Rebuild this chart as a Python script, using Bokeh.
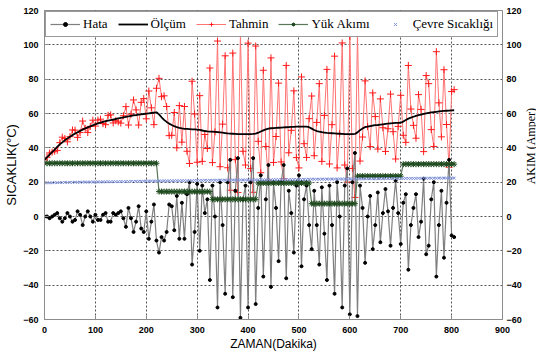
import math
from bokeh.plotting import figure
from bokeh.layouts import row
from bokeh.models import Range1d, LinearAxis, Legend, LegendItem, SingleIntervalTicker
from bokeh.core.properties import value
from bokeh.embed import file_html
from bokeh.resources import INLINE

# Sampling instants (minutes), every 5 minutes
zaman = list(range(0, 810, 5))

# Measured temperature (°C)
olcum = [
    33.0, 34.5, 36.0, 37.5, 39.0, 40.5, 42.0, 43.2, 44.4, 45.5,
    46.5, 47.4, 48.3, 49.1, 49.9, 50.6, 51.3, 51.9, 52.5, 53.1,
    53.7, 54.2, 54.7, 55.1, 55.5, 55.9, 56.2, 56.5, 56.8, 57.1,
    57.4, 57.7, 58.0, 58.3, 58.6, 58.9, 59.1, 59.3, 59.5, 59.7,
    59.9, 60.1, 60.3, 60.5, 60.7, 59.5, 57.8, 56.3, 55.1, 54.1,
    53.3, 52.6, 52.0, 51.6, 51.3, 51.1, 51.0, 50.9, 50.8, 50.7,
    50.6, 50.4, 50.1, 49.8, 49.6, 49.5, 49.4, 49.3, 49.2, 49.0,
    48.8, 48.6, 48.4, 48.3, 48.2, 48.1, 48.0, 48.0, 48.0, 48.0,
    48.0, 48.0, 48.1, 48.3, 48.8, 49.5, 50.2, 50.8, 51.2, 51.4,
    51.5, 51.6, 51.7, 51.8, 51.9, 52.0, 52.1, 52.2, 52.2, 52.3,
    52.3, 52.3, 52.4, 52.4, 52.0, 51.2, 50.4, 49.8, 49.4, 49.1,
    48.9, 48.7, 48.6, 48.5, 48.4, 48.3, 48.2, 48.1, 48.0, 48.0,
    48.0, 48.0, 48.1, 49.0, 50.3, 51.3, 52.0, 52.4, 52.7, 53.0,
    53.2, 53.3, 53.5, 53.7, 53.9, 54.1, 54.3, 54.4, 54.5, 54.5,
    54.6, 55.3, 56.2, 57.0, 57.6, 58.1, 58.6, 59.0, 59.4, 59.8,
    60.1, 60.4, 60.6, 60.8, 61.0, 61.2, 61.4, 61.5, 61.6, 61.7,
    61.8, 61.9,
]

# Predicted temperature (°C)
tahmin = [
    33.0, 34.5, 37.0, 37.5, 38.0, 38.5, 43.0, 46.2, 45.4, 43.5,
    46.5, 50.4, 50.3, 46.1, 48.9, 55.6, 51.3, 48.9, 52.5, 56.1,
    52.7, 56.2, 56.7, 54.1, 53.5, 58.9, 59.2, 54.5, 55.8, 55.1,
    54.4, 58.7, 64.0, 53.3, 59.6, 67.9, 62.1, 53.3, 66.5, 68.7,
    56.9, 73.1, 63.3, 53.5, 74.7, 80.5, 69.8, 70.3, 64.1, 47.1,
    47.3, 60.6, 40.0, 64.6, 43.3, 64.1, 38.0, 30.9, 78.8, 59.7,
    31.6, 70.4, 32.1, 47.8, 39.6, 86.5, 31.4, 49.3, 102.2, 29.0,
    53.8, 93.6, 28.4, 15.3, 95.2, 33.1, 14.0, 107.0, 38.0, 30.0,
    101.0, 28.0, 14.1, 99.3, 43.8, 25.5, 85.2, 40.8, 21.2, 92.4,
    31.5, 46.6, 77.7, 31.8, 21.9, 88.0, 37.1, 50.2, 73.2, 34.3,
    28.3, 81.3, 42.4, 34.4, 57.0, 70.2, 35.4, 54.8, 77.4, 32.1,
    58.9, 85.7, 30.6, 53.5, 93.4, 28.3, 48.2, 101.1, 30.0, 20.0,
    105.0, 28.0, 11.1, 107.0, 32.3, 46.3, 79.0, 52.4, 40.7, 72.0,
    58.2, 39.3, 68.5, 51.7, 37.9, 51.1, 71.3, 49.4, 33.5, 52.5,
    70.6, 47.3, 43.2, 88.0, 62.6, 53.1, 45.6, 71.0, 62.4, 37.8,
    82.1, 77.4, 50.6, 40.8, 96.0, 66.2, 46.4, 85.5, 53.6, 28.7,
    72.8, 73.9,
]

# Prediction error (°C)
hata = [
    0, 0, -1, 0, 1, 2, -1, -3, -1, 2,
    0, -3, -2, 3, 1, -5, 0, 3, 0, -3,
    1, -2, -2, 1, 2, -3, -3, 2, 1, 2,
    3, -1, -6, 5, -1, -9, -3, 6, -7, -9,
    3, -13, -3, 7, -14, -21, -12, -14, -9, 7,
    6, -8, 12, -13, 8, -13, 13, 20, -28, -9,
    19, -20, 18, 2, 10, -37, 18, 0, -53, 20,
    -5, -45, 20, 33, -47, 15, 34, -59, 10, 18,
    -53, 20, 34, -51, 5, 24, -35, 10, 30, -41,
    20, 5, -26, 20, 30, -36, 15, 2, -21, 18,
    24, -29, 10, 18, -5, -19, 15, -5, -28, 17,
    -10, -37, 18, -5, -45, 20, 0, -53, 18, 28,
    -57, 20, 37, -58, 18, 5, -27, 0, 12, -19,
    -5, 14, -15, 2, 16, 3, -17, 5, 21, 2,
    -16, 8, 13, -31, -5, 5, 13, -12, -3, 22,
    -22, -17, 10, 20, -35, -5, 15, -24, 8, 33,
    -11, -12,
]

# Load current (A)
yuk_akimi = [
    31, 31, 31, 31, 31, 31, 31, 31, 31, 31,
    31, 31, 31, 31, 31, 31, 31, 31, 31, 31,
    31, 31, 31, 31, 31, 31, 31, 31, 31, 31,
    31, 31, 31, 31, 31, 31, 31, 31, 31, 31,
    31, 31, 31, 31, 31, 14.5, 14.5, 14.5, 14.5, 14.5,
    14.5, 14.5, 14.5, 14.5, 14.5, 14.5, 14.5, 14.5, 14.5, 14.5,
    14.5, 14.5, 14.5, 14.5, 14.5, 14.5, 10, 10, 10, 10,
    10, 10, 10, 10, 10, 10, 10, 10, 10, 10,
    10, 10, 10, 10, 19.5, 19.5, 19.5, 19.5, 19.5, 19.5,
    19.5, 19.5, 19.5, 19.5, 19.5, 19.5, 19.5, 19.5, 19.5, 19.5,
    19.5, 19.5, 19.5, 19.5, 19.5, 7.5, 7.5, 7.5, 7.5, 7.5,
    7.5, 7.5, 7.5, 7.5, 7.5, 7.5, 7.5, 7.5, 7.5, 7.5,
    7.5, 7.5, 7.5, 23.5, 23.5, 23.5, 23.5, 23.5, 23.5, 23.5,
    23.5, 23.5, 23.5, 23.5, 23.5, 23.5, 23.5, 23.5, 23.5, 23.5,
    23.5, 30.5, 30.5, 30.5, 30.5, 30.5, 30.5, 30.5, 30.5, 30.5,
    30.5, 30.5, 30.5, 30.5, 30.5, 30.5, 30.5, 30.5, 30.5, 30.5,
    30.5, 30.5,
]

# Ambient temperature (°C)
cevre = [
    19.6, 19.7, 19.6, 19.7, 19.8, 19.7, 19.8, 19.8, 19.9, 19.8,
    19.9, 19.9, 20.0, 19.9, 20.0, 20.0, 20.1, 20.0, 20.1, 20.1,
    20.1, 20.2, 20.1, 20.2, 20.2, 20.3, 20.2, 20.3, 20.3, 20.3,
    20.4, 20.3, 20.4, 20.4, 20.5, 20.4, 20.5, 20.5, 20.5, 20.6,
    20.6, 20.6, 20.7, 20.6, 20.7, 20.7, 20.7, 20.8, 20.7, 20.8,
    20.8, 20.8, 20.9, 20.8, 20.9, 20.9, 20.9, 21.0, 20.9, 21.0,
    21.0, 21.0, 21.0, 21.1, 21.0, 21.1, 21.1, 21.1, 21.1, 21.2,
    21.1, 21.2, 21.2, 21.2, 21.2, 21.3, 21.2, 21.3, 21.3, 21.3,
    21.3, 21.3, 21.4, 21.3, 21.4, 21.4, 21.4, 21.4, 21.5, 21.4,
    21.5, 21.5, 21.5, 21.5, 21.5, 21.6, 21.5, 21.6, 21.6, 21.6,
    21.6, 21.6, 21.7, 21.6, 21.7, 21.7, 21.7, 21.7, 21.7, 21.8,
    21.7, 21.8, 21.8, 21.8, 21.8, 21.8, 21.9, 21.8, 21.9, 21.9,
    21.9, 21.9, 21.9, 21.9, 22.0, 21.9, 22.0, 22.0, 22.0, 22.0,
    22.0, 22.0, 22.1, 22.0, 22.1, 22.1, 22.1, 22.1, 22.1, 22.1,
    22.2, 22.1, 22.2, 22.2, 22.2, 22.2, 22.2, 22.3, 22.2, 22.3,
    22.3, 22.3, 22.3, 22.3, 22.3, 22.4, 22.3, 22.4, 22.4, 22.4,
    22.4, 22.4,
]

TOTAL_W, TOTAL_H = 536, 353
SIDE_W = 12                      # strip holding the right-hand axis title
MAIN_W = TOTAL_W - SIDE_W
FRAME_LEFT, FRAME_TOP, FRAME_BOTTOM = 44, 10, 320

p = figure(width=MAIN_W, height=TOTAL_H, x_range=Range1d(0, 900), y_range=Range1d(-60, 120),
           output_backend="svg", toolbar_location=None,
           min_border_left=FRAME_LEFT, min_border_right=15,
           min_border_top=FRAME_TOP, min_border_bottom=TOTAL_H - FRAME_BOTTOM,
           background_fill_color="white", border_fill_color="white")
p.extra_y_ranges = {"akim": Range1d(-60, 120)}
p.outline_line_color = "#8c8c8c"

p.xaxis.ticker = SingleIntervalTicker(interval=100)
p.yaxis.ticker = SingleIntervalTicker(interval=20)
right_axis = LinearAxis(y_range_name="akim", ticker=SingleIntervalTicker(interval=20))
p.add_layout(right_axis, "right")

for ax in [p.xaxis[0], p.yaxis[0], right_axis]:
    ax.major_label_text_font = "Liberation Sans"
    ax.major_label_text_font_style = "bold"
    ax.major_label_text_font_size = "9px"
    ax.major_label_text_color = "black"
    ax.axis_line_color = "#8c8c8c"
    ax.major_tick_line_color = "#8c8c8c"
    ax.major_tick_in = 4
    ax.major_tick_out = 0
    ax.minor_tick_line_color = None
    ax.major_label_standoff = 2
    ax.axis_label_text_color = "black"
    ax.axis_label_text_font_style = "normal"
right_axis.major_tick_in = 0
right_axis.major_label_standoff = 0

p.xaxis.axis_label = "ZAMAN(Dakika)"
p.xaxis.axis_label_text_font = "Liberation Sans"
p.xaxis.axis_label_text_font_size = "12px"
p.xaxis.major_label_standoff = 3
p.xaxis.axis_label_standoff = 1

p.yaxis[0].axis_label = "SICAKLIK(°C)"
p.yaxis[0].axis_label_text_font = "Liberation Sans"
p.yaxis[0].axis_label_text_font_size = "13px"
p.yaxis[0].axis_label_standoff = 1

for g in [p.xgrid[0], p.ygrid[0]]:
    g.grid_line_color = "black"
    g.grid_line_alpha = 0.85
    g.grid_line_width = 0.8
    g.grid_line_dash = "2 2"
p.xgrid.ticker = SingleIntervalTicker(interval=100)
p.ygrid.ticker = SingleIntervalTicker(interval=20)

# Series
r_tah_line = p.line(zaman, tahmin, line_color="#ff7373", line_width=1)
r_tah_pts = p.scatter(zaman, tahmin, marker="cross", size=7, line_color="#ff1a1a", line_width=1)
r_hata_line = p.line(zaman, hata, line_color="#7f7f7f", line_width=1.2)
r_hata_pts = p.scatter(zaman, hata, marker="circle", size=3, fill_color="black", line_color="black")
r_yuk_line = p.line(zaman, yuk_akimi, y_range_name="akim", line_color="#587858", line_width=1.2)
r_yuk_pts = p.scatter(zaman, yuk_akimi, y_range_name="akim", marker="asterisk", size=6,
                      line_color="#1e4a1e", line_width=1)
r_cevre = p.scatter(zaman, cevre, marker="x", size=4, line_color="#7b8fd8", line_width=1)
r_olcum = p.line(zaman, olcum, line_color="black", line_width=1.8)

legend = Legend(items=[
    LegendItem(label="Hata", renderers=[r_hata_line, r_hata_pts]),
    LegendItem(label="Ölçüm", renderers=[r_olcum]),
    LegendItem(label="Tahmin", renderers=[r_tah_line, r_tah_pts]),
    LegendItem(label="Yük Akımı", renderers=[r_yuk_line, r_yuk_pts]),
    LegendItem(label="Çevre Sıcaklığı", renderers=[r_cevre]),
], orientation="horizontal", location="top_left")
legend.label_text_font = "Liberation Serif"
legend.label_text_font_size = "13px"
legend.label_text_color = "black"
legend.glyph_width = 30
legend.glyph_height = 10
legend.label_height = 16
legend.label_standoff = 3
legend.spacing = 10
legend.padding = 4
legend.margin = 1
legend.border_line_color = "#333333"
legend.border_line_width = 1
legend.background_fill_alpha = 1
p.add_layout(legend)

# Narrow strip carrying the current-axis title, reading bottom to top
side = figure(width=SIDE_W, height=TOTAL_H, x_range=Range1d(0, 1), y_range=Range1d(0, TOTAL_H),
              output_backend="svg", toolbar_location=None,
              x_axis_location=None, y_axis_location=None, min_border=0,
              background_fill_color="white", border_fill_color="white")
side.outline_line_color = None
side.grid.visible = False
side.text(x=[0.5], y=[TOTAL_H - 155], text=["AKIM (Amper)"], angle=math.pi / 2,
          text_align="center", text_baseline="middle",
          text_font=value("Liberation Serif"), text_font_size="12px", text_color="black")

open("out.html", "w").write(file_html(row(p, side), INLINE))
